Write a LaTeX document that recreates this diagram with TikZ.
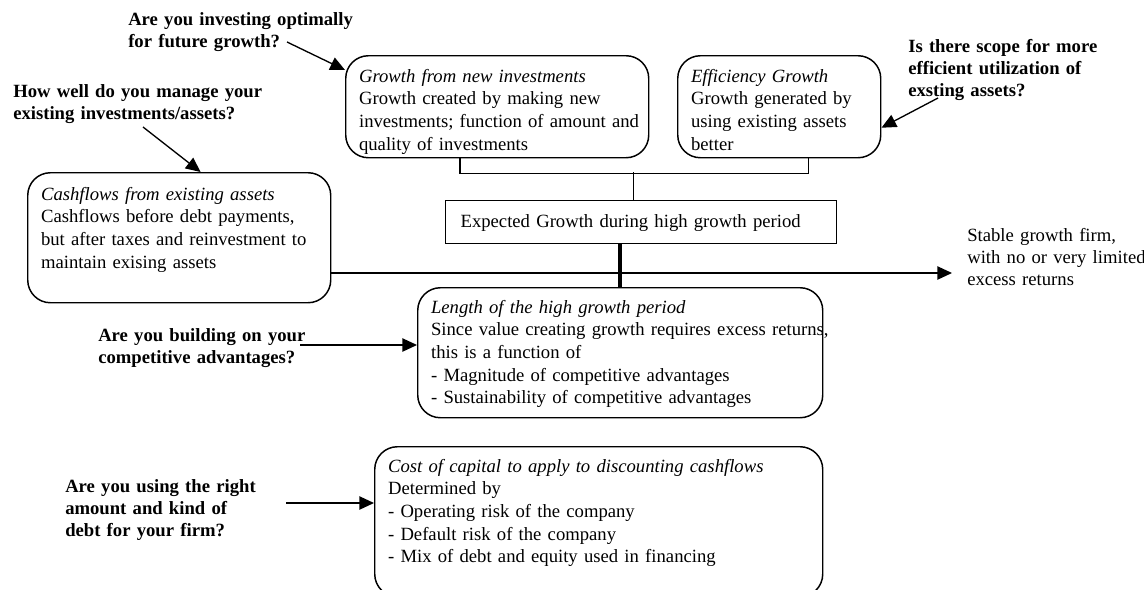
\documentclass[tikz,border=0pt]{standalone}
\usepackage{fontspec}
\setmainfont{Liberation Serif}
\usetikzlibrary{arrows.meta}
\tikzset{
  rb/.style = {draw, line width=1.1pt, rounded corners=17pt, anchor=north west, align=left, inner ysep=0pt, inner xsep=10pt, font=\fontsize{14}{17}\selectfont},
  sb/.style = {draw, line width=0.9pt, anchor=north west, align=left, inner ysep=0pt, inner xsep=11.25pt, font=\fontsize{14}{17}\selectfont},
  qt/.style = {anchor=base west, align=left, inner sep=0pt, text width=190pt, font=\bfseries\fontsize{14}{16.5}\selectfont},
  nt/.style = {anchor=base west, align=left, inner sep=0pt, text width=150pt, font=\fontsize{14}{16.5}\selectfont},
  link/.style = {line width=1.1pt},
  arrow/.style = {line width=1pt, -{Triangle[length=11pt,width=10pt]}}
}

\begin{document}
\begin{tikzpicture}[x=0.75pt, y=-0.75pt]
  \useasboundingbox (0,0) rectangle (1144,589);
  \node[rb, text width=207.25pt, text height=19.9pt, text depth=56.6pt] (newinv) at (345,55) {\textit{Growth from new investments}\\Growth created by making new\\\mbox{investments; function of amount and}\\quality of investments};
  \node[rb, text width=132.25pt, text height=19.9pt, text depth=56.6pt] (eff) at (677,55) {\textit{Efficiency Growth}\\\mbox{Growth generated by}\\\mbox{using existing assets}\\better};
  \node[rb, text width=207.25pt, text height=20.6pt, text depth=76.9pt] (cashflows) at (27,172) {\textit{Cashflows from existing assets}\\\mbox{Cashflows before debt payments,}\\\mbox{but after taxes and reinvestment to}\\maintain exising assets};
  \node[sb, text width=270.75pt, text height=19.9pt, text depth=12.4pt] (expected) at (445,200) {Expected Growth during high growth period};
  \node[rb, text width=283.75pt, text height=19.1pt, text depth=78.4pt] (length) at (417,287) {\textit{Length of the high growth period}\\\mbox{Since value creating growth requires excess returns,}\\this is a function of\\- Magnitude of competitive advantages\\- Sustainability of competitive advantages};
  \node[rb, text width=316pt, text height=19.1pt, text depth=93.4pt] (cost) at (374,446) {\textit{Cost of capital to apply to discounting cashflows}\\Determined by\\- Operating risk of the company\\- Default risk of the company\\- Mix of debt and equity used in financing};
  \node[nt] (stable) at (967,241.5) {Stable growth firm,\\\mbox{with no or very limited}\\excess returns};

  \node[qt] (qinvest) at (128,26) {Are you investing optimally\\for future growth?};
  \node[qt] (qmanage) at (13,97) {How well do you manage your\\existing investments/assets?};
  \node[qt] (qscope) at (908,52.5) {Is there scope for more\\efficient utilization of\\exsting assets?};
  \node[qt] (qbuild) at (98,341.5) {Are you building on your\\competitive advantages?};
  \node[qt] (qdebt) at (65,492) {Are you using the right\\amount and kind of\\debt for your firm?};

  \draw[link] ([xshift=86.25pt]newinv.south west) -- ++(0,15) -| ([xshift=-54.75pt]eff.south east);
  \draw[link] ([xshift=-5.6pt]expected.north) -- ++(0,-28);
  \draw[line width=3pt] (expected.south -| length.north) -- (length.north);
  \coordinate (stabletip) at (952,273);
  \draw[arrow] (cashflows.east |- stabletip) -- (stabletip);

  \coordinate (qinvest-out) at (287,42);
  \coordinate (qmanage-out) at (143,127);
  \coordinate (qscope-out) at (938,98);
  \coordinate (qbuild-out) at (300,345);
  \coordinate (qdebt-out) at (286,503);
  \draw[arrow] (qinvest-out) -- ([yshift=-11.25pt]newinv.north west);
  \draw[arrow] (qmanage-out) -- ([xshift=16pt]cashflows.north);
  \draw[arrow] (qscope-out) -- ([yshift=-15.75pt]eff.east);
  \draw[arrow] (qbuild-out) -- (qbuild-out -| length.west);
  \draw[arrow] (qdebt-out) -- (qdebt-out -| cost.west);
\end{tikzpicture}
\end{document}
